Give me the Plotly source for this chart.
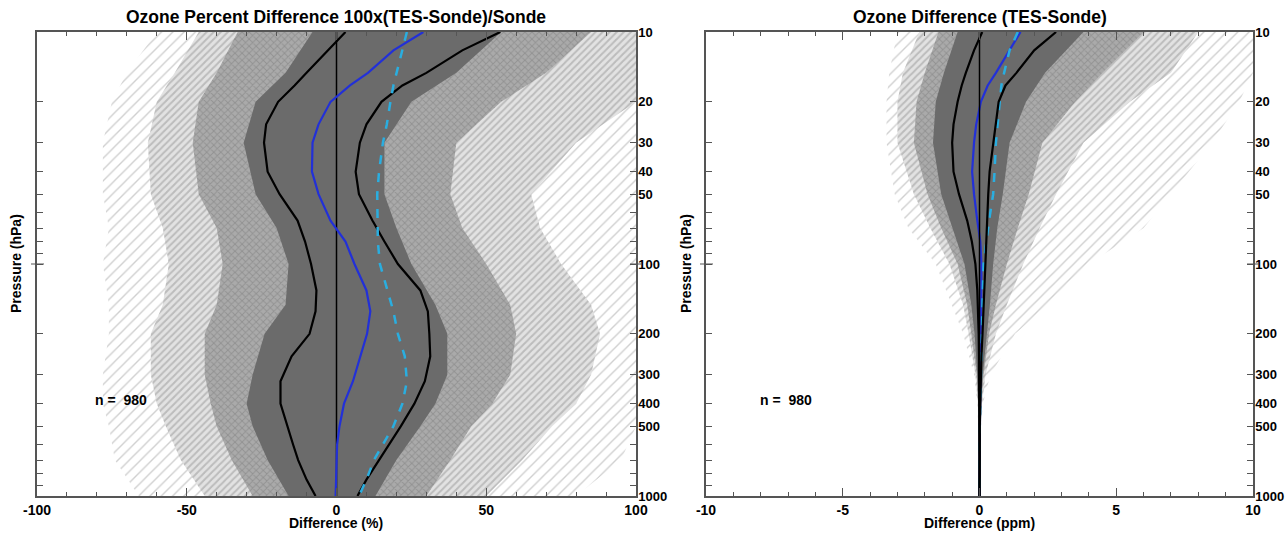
import plotly.graph_objects as go

# ---------------- data ----------------
P = [10, 12, 15, 17, 20, 25, 30, 40, 50, 65, 80, 100, 130, 160, 200, 250, 320, 400, 500, 600, 700, 850, 1000]

# Left panel: percent difference
pct_lo = [3, -3, -10, -14, -19.5, -23.5, -24.2, -23, -19, -13, -10.5, -8.5, -6.7, -7, -9, -15, -18.7, -18.7, -16.5, -14.5, -12.8, -10, -7]
pct_hi = [54.7, 42, 30, 22, 15, 10, 7.8, 6.4, 7.5, 12, 16, 20.5, 28, 30.5, 31, 31.3, 29.5, 26, 21.5, 17.5, 14, 10, 7]
pct_mean = [29, 19, 10.5, 4.5, -2, -6, -8, -8.2, -6, -2, 3, 6, 10, 11.3, 10.2, 8, 5.5, 2.5, 1, 0.2, 0, -0.2, -0.3]
pct_med = [23.5, 22, 20, 19, 18, 16.8, 15.5, 14.2, 13.6, 13.6, 13.8, 14.5, 17, 19, 20.5, 22.8, 23.5, 22, 19, 15.5, 12.5, 10, 7.5]

# Right panel: ppm difference
ppm_lo = [0.1, -0.2, -0.5, -0.65, -0.8, -0.95, -1.0, -0.95, -0.75, -0.45, -0.28, -0.15, -0.08, -0.05, -0.03, -0.02, -0.01, 0, 0, 0, 0, 0, 0]
ppm_hi = [2.8, 2.0, 1.35, 0.95, 0.7, 0.6, 0.5, 0.37, 0.32, 0.28, 0.26, 0.24, 0.2, 0.15, 0.11, 0.07, 0.04, 0.02, 0.01, 0.01, 0.005, 0, 0]
ppm_mean = [1.5, 1.1, 0.6, 0.3, 0.05, -0.12, -0.2, -0.27, -0.2, -0.08, 0.03, 0.07, 0.07, 0.06, 0.04, 0.03, 0.02, 0.01, 0, 0, 0, 0, 0]
ppm_med = [1.4, 1.1, 0.9, 0.8, 0.74, 0.66, 0.6, 0.55, 0.5, 0.35, 0.25, 0.15, 0.12, 0.1, 0.08, 0.05, 0.03, 0.02, 0.01, 0, 0, 0, 0]

# Envelopes of the 980 individual profiles (grey mass), from dense core to sparse edge
PB = [10, 15, 20, 30, 50, 70, 100, 150, 200, 300, 400, 500, 700, 1000]
pct_core_lo = [-8, -17, -27, -31, -27, -20, -16, -17, -24, -28, -30, -28, -23, -16]
pct_core_hi = [55, 40, 25, 16, 16, 20, 25, 33, 37, 37, 33, 28, 20, 13]
pct_in_lo = [-33, -40, -46, -48, -46, -40, -38, -40, -44, -44, -42, -40, -35, -28]
pct_in_hi = [85, 70, 55, 40, 38, 42, 50, 58, 60, 58, 52, 45, 38, 30]
pct_mid_lo = [-46, -54, -60, -63, -62, -58, -56, -58, -62, -62, -60, -57, -52, -44]
pct_mid_hi = [100, 100, 100, 80, 65, 68, 75, 85, 88, 85, 80, 72, 62, 50]
pct_out_lo = [-60, -70, -75, -78, -78, -76, -78, -76, -76, -78, -78, -76, -74, -66]
pct_out_hi = [100, 100, 100, 100, 100, 100, 100, 100, 100, 100, 100, 100, 95, 80]

ppm_core_lo = [-0.8, -1.3, -1.6, -1.7, -1.4, -1.0, -0.55, -0.3, -0.18, -0.08, -0.04, -0.03, -0.02, -0.02]
ppm_core_hi = [3.8, 2.4, 1.7, 1.1, 0.85, 0.65, 0.5, 0.38, 0.27, 0.12, 0.06, 0.04, 0.03, 0.03]
ppm_in_lo = [-1.5, -2.0, -2.3, -2.4, -1.9, -1.4, -0.8, -0.45, -0.3, -0.1, -0.05, -0.03, -0.02, -0.02]
ppm_in_hi = [6, 4.5, 3.5, 2.3, 1.8, 1.4, 1.0, 0.6, 0.35, 0.15, 0.07, 0.04, 0.03, 0.03]
ppm_mid_lo = [-2.2, -2.8, -3.0, -3.0, -2.4, -1.8, -1.1, -0.6, -0.4, -0.15, -0.06, -0.04, -0.03, -0.02]
ppm_mid_hi = [8, 7, 5.5, 3.8, 2.8, 2.2, 1.6, 1.0, 0.6, 0.22, 0.09, 0.05, 0.04, 0.03]
ppm_out_lo = [-3.0, -3.3, -3.4, -3.4, -3.1, -2.6, -1.6, -1.0, -0.6, -0.2, -0.08, -0.05, -0.03, -0.02]
ppm_out_hi = [10, 10, 9.5, 8.5, 7, 6, 4, 2.5, 1.3, 0.4, 0.12, 0.06, 0.04, 0.03]

n_profiles = 980
y_ticks = [10, 20, 30, 40, 50, 100, 200, 300, 400, 500, 1000]
y_minor = [60, 70, 80, 90, 600, 700, 800, 900]

# ---------------- figure ----------------
W, H = 1285, 533
FONT = "Liberation Sans"
GREY_CORE = "#6b6b6b"
BLUE = "#2230d8"
CYAN = "#2aaee0"

fig = go.Figure()


def band(lo, hi, xa, ya, **kw):
    fig.add_trace(go.Scatter(
        x=list(lo) + list(hi)[::-1], y=PB + PB[::-1], mode="lines", fill="toself",
        line=dict(width=0), hoverinfo="skip", showlegend=False, xaxis=xa, yaxis=ya, **kw))


def line(x, xa, ya, color, width, dash="solid"):
    fig.add_trace(go.Scatter(x=x, y=P, mode="lines", line=dict(color=color, width=width, dash=dash),
                             showlegend=False, hoverinfo="skip", xaxis=xa, yaxis=ya))


for (xa, ya, bands) in [
        ("x", "y", [(pct_out_lo, pct_out_hi), (pct_mid_lo, pct_mid_hi), (pct_in_lo, pct_in_hi), (pct_core_lo, pct_core_hi)]),
        ("x2", "y2", [(ppm_out_lo, ppm_out_hi), (ppm_mid_lo, ppm_mid_hi), (ppm_in_lo, ppm_in_hi), (ppm_core_lo, ppm_core_hi)])]:
    (olo, ohi), (mlo, mhi), (ilo, ihi), (clo, chi) = bands
    band(olo, ohi, xa, ya, fillcolor="rgba(0,0,0,0)",
         fillpattern=dict(shape="/", fgcolor="#a0a0a0", bgcolor="white", size=8, solidity=0.17))
    band(mlo, mhi, xa, ya, fillcolor="#c4c4c4",
         fillpattern=dict(shape="/", fgcolor="#959595", bgcolor="#e2e2e2", size=5, solidity=0.4))
    band(ilo, ihi, xa, ya, fillcolor="#999999",
         fillpattern=dict(shape="x", fgcolor="#7a7a7a", bgcolor="#aaaaaa", size=5, solidity=0.35))
    band(clo, chi, xa, ya, fillcolor=GREY_CORE)

zero = [0] * len(P)
line(zero, "x", "y", "black", 1.5)
line(pct_lo, "x", "y", "black", 2.2)
line(pct_hi, "x", "y", "black", 2.2)
line(pct_mean, "x", "y", BLUE, 2.2)
line(pct_med, "x", "y", CYAN, 2.5, "dash")

line(ppm_mean, "x2", "y2", BLUE, 2.2)
line(ppm_med, "x2", "y2", CYAN, 2.5, "dash")
line(zero, "x2", "y2", "black", 1.5)
line(ppm_lo, "x2", "y2", "black", 2.2)
line(ppm_hi, "x2", "y2", "black", 2.2)

axcol = "#555555"


def xax(domain, rng, minor_d, anchor):
    vals = [rng[0], rng[0] / 2, 0, rng[1] / 2, rng[1]]
    return dict(domain=domain, range=rng, anchor=anchor, tickmode="array", automargin=False,
                tickvals=vals, ticktext=[f"<b>{v:g}</b>" for v in vals],
                ticks="inside", ticklen=8, tickwidth=1, tickcolor=axcol,
                minor=dict(dtick=minor_d, tick0=0, ticks="inside", ticklen=4, tickcolor=axcol, showgrid=False),
                mirror="ticks", showline=True, linecolor=axcol, linewidth=1.5,
                showgrid=False, zeroline=False, tickfont=dict(family=FONT, size=14, color="black"))


def yax(domain, anchor):
    return dict(domain=domain, type="log", range=[3, 1], anchor=anchor, side="right", automargin=False,
                tickmode="array", tickvals=y_ticks, ticktext=[f"<b>{v}</b>" for v in y_ticks],
                ticks="inside", ticklen=6, tickwidth=1, tickcolor=axcol, ticklabelstandoff=-2,
                minor=dict(tickvals=y_minor, ticks="inside", ticklen=6, tickcolor=axcol, showgrid=False),
                mirror="ticks", showline=True, linecolor=axcol, linewidth=1.5,
                showgrid=False, zeroline=False, tickfont=dict(family=FONT, size=13, color="black"))


yd = [1 - 496 / H, 1 - 32 / H]
fig.update_layout(
    width=W, height=H, margin=dict(l=0, r=0, t=0, b=0, autoexpand=False),
    paper_bgcolor="white", plot_bgcolor="white",
    xaxis=xax([37 / W, 636 / W], [-100, 100], 10, "y"),
    yaxis=yax(yd, "x"),
    xaxis2=xax([706 / W, 1253 / W], [-10, 10], 1, "y2"),
    yaxis2=yax(yd, "x2"),
    showlegend=False,
)


def ann(text, x, y, size, angle=0):
    fig.add_annotation(text=f"<b>{text}</b>", x=x, y=y, xref="paper", yref="paper",
                       showarrow=False, textangle=angle, xanchor="center", yanchor="middle",
                       font=dict(family=FONT, size=size, color="black"))


ann("Ozone Percent Difference 100x(TES-Sonde)/Sonde", 336 / W, 1 - 17 / H, 17.5)
ann("Ozone Difference (TES-Sonde)", 980 / W, 1 - 17 / H, 17.5)
ann("Difference (%)", 336 / W, 1 - 523 / H, 14)
ann("Difference (ppm)", 980 / W, 1 - 523 / H, 14)
ann("Pressure (hPa)", 16 / W, 1 - 264 / H, 14, -90)
ann("Pressure (hPa)", 686 / W, 1 - 264 / H, 14, -90)
ann(f"n =  {n_profiles}", 121 / W, 1 - 400 / H, 14)
ann(f"n =  {n_profiles}", 786 / W, 1 - 400 / H, 14)

# longer tick crossing the spines at 100 hPa
for xl, xr, yref in [(31, 44, "y"), (630, 642, "y"), (700, 713, "y2"), (1247, 1259, "y2")]:
    fig.add_shape(type="line", xref="paper", yref=yref, x0=xl / W, x1=xr / W, y0=100, y1=100,
                  line=dict(color=axcol, width=1))

fig.write_html("out.html", config={"displayModeBar": False},
               post_script="document.body.style.margin='0';document.body.style.padding='0';")
